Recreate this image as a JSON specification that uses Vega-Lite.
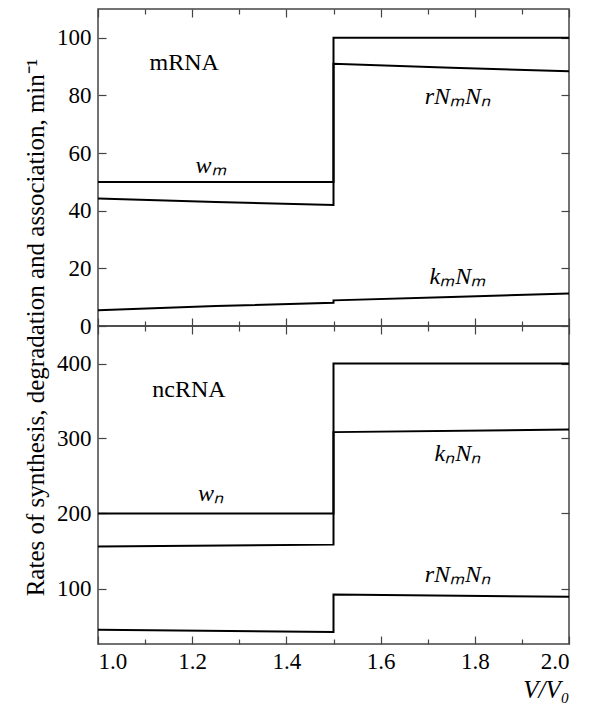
{
  "$schema": "https://vega.github.io/schema/vega-lite/v6.json",
  "autosize": {"type": "pad"},
  "padding": {"left": 22, "top": 7, "right": 5, "bottom": 5},
  "spacing": 0,
  "bounds": "flush",
  "config": {
    "view": {"stroke": "#444", "strokeWidth": 1.5},
    "font": "Liberation Serif",
    "axis": {"domain": false, "grid": false, "tickColor": "#444", "tickWidth": 1.2, "labelFont": "Liberation Serif", "labelFontSize": 23, "labelColor": "black", "titleFont": "Liberation Serif", "titleFontSize": 25, "titleFontWeight": "normal", "titleColor": "black"}
  },
  "datasets": {
    "top": [
      {"s": "wm", "i": 0, "x": 1.0, "y": 50}, {"s": "wm", "i": 1, "x": 1.5, "y": 50}, {"s": "wm", "i": 2, "x": 1.5, "y": 100}, {"s": "wm", "i": 3, "x": 2.0, "y": 100},
      {"s": "r", "i": 0, "x": 1.0, "y": 44.2}, {"s": "r", "i": 1, "x": 1.25, "y": 43.0}, {"s": "r", "i": 2, "x": 1.5, "y": 42.0}, {"s": "r", "i": 3, "x": 1.5, "y": 91.0}, {"s": "r", "i": 4, "x": 1.75, "y": 89.6}, {"s": "r", "i": 5, "x": 2.0, "y": 88.4},
      {"s": "k", "i": 0, "x": 1.0, "y": 5.5}, {"s": "k", "i": 1, "x": 1.25, "y": 6.9}, {"s": "k", "i": 2, "x": 1.5, "y": 8.1}, {"s": "k", "i": 3, "x": 1.5, "y": 8.9}, {"s": "k", "i": 4, "x": 1.75, "y": 10.1}, {"s": "k", "i": 5, "x": 2.0, "y": 11.3}
    ],
    "bottom": [
      {"s": "wn", "i": 0, "x": 1.0, "y": 200}, {"s": "wn", "i": 1, "x": 1.5, "y": 200}, {"s": "wn", "i": 2, "x": 1.5, "y": 400}, {"s": "wn", "i": 3, "x": 2.0, "y": 400},
      {"s": "k", "i": 0, "x": 1.0, "y": 156}, {"s": "k", "i": 1, "x": 1.5, "y": 158.5}, {"s": "k", "i": 2, "x": 1.5, "y": 308.5}, {"s": "k", "i": 3, "x": 2.0, "y": 312},
      {"s": "r", "i": 0, "x": 1.0, "y": 45}, {"s": "r", "i": 1, "x": 1.5, "y": 42}, {"s": "r", "i": 2, "x": 1.5, "y": 92}, {"s": "r", "i": 3, "x": 2.0, "y": 89}
    ],
    "topMath": [
      {"x": 1.24, "y": 55.5, "t": "wₘ"}, {"x": 1.764, "y": 79.6, "t": "rNₘNₙ"}, {"x": 1.764, "y": 17, "t": "kₘNₘ"}
    ],
    "topText": [{"x": 1.183, "y": 91.3, "t": "mRNA"}],
    "bottomMath": [
      {"x": 1.24, "y": 226, "t": "wₙ"}, {"x": 1.764, "y": 279, "t": "kₙNₙ"}, {"x": 1.764, "y": 118, "t": "rNₘNₙ"}
    ],
    "bottomText": [{"x": 1.193, "y": 364.4, "t": "ncRNA"}]
  },
  "vconcat": [
    {
      "width": 471, "height": 317,
      "layer": [
        {
          "data": {"name": "top"},
          "mark": {"type": "line", "color": "black", "strokeWidth": 2},
          "encoding": {
            "x": {"field": "x", "type": "quantitative", "scale": {"domain": [1, 2], "nice": false}, "axis": {"orient": "bottom", "values": [1, 1.2, 1.4, 1.6, 1.8, 2], "labels": false, "tickSize": -8, "title": null}},
            "y": {"field": "y", "type": "quantitative", "scale": {"domain": [0, 110], "nice": false}, "axis": {"orient": "left", "values": [0, 20, 40, 60, 80, 100], "tickSize": -8, "labelPadding": 15, "labelFont": "Liberation Serif", "labelFontSize": 23, "title": "Rates of synthesis, degradation and association, min⁻¹", "titleFont": "Liberation Serif", "titleFontSize": 25, "titleFontWeight": "normal", "titleY": 318, "titlePadding": 8}},
            "detail": {"field": "s"},
            "order": {"field": "i"}
          }
        },
        {
          "data": {"name": "top"},
          "mark": {"type": "line", "opacity": 0},
          "encoding": {
            "x": {"field": "x", "type": "quantitative", "scale": {"domain": [1, 2], "nice": false}, "axis": {"orient": "top", "values": [1, 1.2, 1.4, 1.6, 1.8, 2], "labels": false, "tickSize": -8, "title": null}},
            "y": {"field": "y", "type": "quantitative", "scale": {"domain": [0, 110], "nice": false}, "axis": {"orient": "right", "values": [0, 20, 40, 60, 80, 100], "labels": false, "tickSize": -8, "title": null}},
            "detail": {"field": "s"},
            "order": {"field": "i"}
          }
        },
        {
          "data": {"name": "top"},
          "mark": {"type": "line", "opacity": 0},
          "encoding": {
            "x": {"field": "x", "type": "quantitative", "scale": {"domain": [1, 2], "nice": false}, "axis": {"orient": "bottom", "values": [1.1, 1.3, 1.5, 1.7, 1.9], "labels": false, "tickSize": -5, "title": null}},
            "y": {"field": "y", "type": "quantitative", "scale": {"domain": [0, 110], "nice": false}, "axis": null},
            "detail": {"field": "s"},
            "order": {"field": "i"}
          }
        },
        {
          "data": {"name": "top"},
          "mark": {"type": "line", "opacity": 0},
          "encoding": {
            "x": {"field": "x", "type": "quantitative", "scale": {"domain": [1, 2], "nice": false}, "axis": {"orient": "top", "values": [1.1, 1.3, 1.5, 1.7, 1.9], "labels": false, "tickSize": -5, "title": null}},
            "y": {"field": "y", "type": "quantitative", "scale": {"domain": [0, 110], "nice": false}, "axis": null},
            "detail": {"field": "s"},
            "order": {"field": "i"}
          }
        },
        {
          "data": {"name": "topMath"},
          "mark": {"type": "text", "font": "Liberation Serif", "fontSize": 24, "fontStyle": "italic", "color": "black"},
          "encoding": {
            "x": {"field": "x", "type": "quantitative", "scale": {"domain": [1, 2], "nice": false}, "axis": null},
            "y": {"field": "y", "type": "quantitative", "scale": {"domain": [0, 110], "nice": false}, "axis": null},
            "text": {"field": "t"}
          }
        },
        {
          "data": {"name": "topText"},
          "mark": {"type": "text", "font": "Liberation Serif", "fontSize": 24, "color": "black"},
          "encoding": {
            "x": {"field": "x", "type": "quantitative", "scale": {"domain": [1, 2], "nice": false}, "axis": null},
            "y": {"field": "y", "type": "quantitative", "scale": {"domain": [0, 110], "nice": false}, "axis": null},
            "text": {"field": "t"}
          }
        }
      ],
      "resolve": {"axis": {"x": "independent", "y": "independent"}}
    },
    {
      "width": 471, "height": 318,
      "layer": [
        {
          "data": {"name": "bottom"},
          "mark": {"type": "line", "color": "black", "strokeWidth": 2},
          "encoding": {
            "x": {"field": "x", "type": "quantitative", "scale": {"domain": [1, 2], "nice": false}, "axis": {"orient": "bottom", "values": [1, 1.2, 1.4, 1.6, 1.8, 2], "format": ".1f", "tickSize": -8, "labelPadding": 14, "labelFont": "Liberation Serif", "labelFontSize": 23, "title": "V/V₀", "titleFont": "Liberation Serif", "titleFontSize": 25, "titleFontWeight": "normal", "titleFontStyle": "italic", "titleAnchor": "end", "titlePadding": 4}},
            "y": {"field": "y", "type": "quantitative", "scale": {"domain": [26, 450], "nice": false}, "axis": {"orient": "left", "values": [100, 200, 300, 400], "tickSize": -8, "labelPadding": 15, "labelFont": "Liberation Serif", "labelFontSize": 23, "title": null}},
            "detail": {"field": "s"},
            "order": {"field": "i"}
          }
        },
        {
          "data": {"name": "bottom"},
          "mark": {"type": "line", "opacity": 0},
          "encoding": {
            "x": {"field": "x", "type": "quantitative", "scale": {"domain": [1, 2], "nice": false}, "axis": {"orient": "top", "values": [1, 1.2, 1.4, 1.6, 1.8, 2], "labels": false, "tickSize": -8, "title": null}},
            "y": {"field": "y", "type": "quantitative", "scale": {"domain": [26, 450], "nice": false}, "axis": {"orient": "right", "values": [100, 200, 300, 400], "labels": false, "tickSize": -8, "title": null}},
            "detail": {"field": "s"},
            "order": {"field": "i"}
          }
        },
        {
          "data": {"name": "bottom"},
          "mark": {"type": "line", "opacity": 0},
          "encoding": {
            "x": {"field": "x", "type": "quantitative", "scale": {"domain": [1, 2], "nice": false}, "axis": {"orient": "bottom", "values": [1.1, 1.3, 1.5, 1.7, 1.9], "labels": false, "tickSize": -5, "title": null}},
            "y": {"field": "y", "type": "quantitative", "scale": {"domain": [26, 450], "nice": false}, "axis": null},
            "detail": {"field": "s"},
            "order": {"field": "i"}
          }
        },
        {
          "data": {"name": "bottom"},
          "mark": {"type": "line", "opacity": 0},
          "encoding": {
            "x": {"field": "x", "type": "quantitative", "scale": {"domain": [1, 2], "nice": false}, "axis": {"orient": "top", "values": [1.1, 1.3, 1.5, 1.7, 1.9], "labels": false, "tickSize": -5, "title": null}},
            "y": {"field": "y", "type": "quantitative", "scale": {"domain": [26, 450], "nice": false}, "axis": null},
            "detail": {"field": "s"},
            "order": {"field": "i"}
          }
        },
        {
          "data": {"name": "bottomMath"},
          "mark": {"type": "text", "font": "Liberation Serif", "fontSize": 24, "fontStyle": "italic", "color": "black"},
          "encoding": {
            "x": {"field": "x", "type": "quantitative", "scale": {"domain": [1, 2], "nice": false}, "axis": null},
            "y": {"field": "y", "type": "quantitative", "scale": {"domain": [26, 450], "nice": false}, "axis": null},
            "text": {"field": "t"}
          }
        },
        {
          "data": {"name": "bottomText"},
          "mark": {"type": "text", "font": "Liberation Serif", "fontSize": 24, "color": "black"},
          "encoding": {
            "x": {"field": "x", "type": "quantitative", "scale": {"domain": [1, 2], "nice": false}, "axis": null},
            "y": {"field": "y", "type": "quantitative", "scale": {"domain": [26, 450], "nice": false}, "axis": null},
            "text": {"field": "t"}
          }
        }
      ],
      "resolve": {"axis": {"x": "independent", "y": "independent"}}
    }
  ]
}
